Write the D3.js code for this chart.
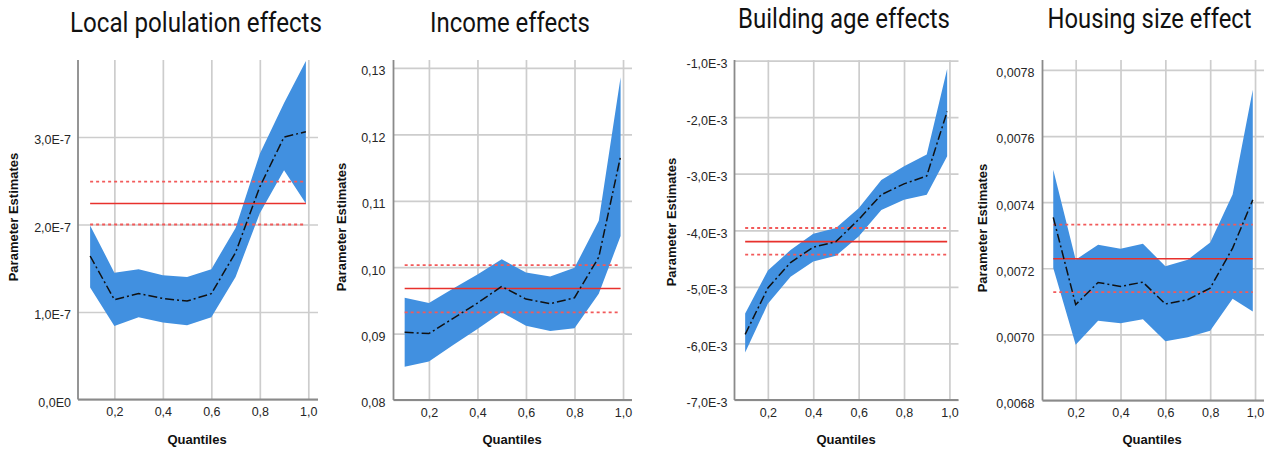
<!DOCTYPE html>
<html>
<head>
<meta charset="utf-8">
<script src="https://cdn.jsdelivr.net/npm/d3@7"></script>
<style>
  html, body { margin: 0; padding: 0; background: #fff; }
  svg { display: block; }
</style>
</head>
<body>
<svg id="chart" width="1266" height="449"></svg>
<script>
// Quantile regression coefficients with confidence bands, plus OLS estimate and its interval.
const quantiles = [0.1, 0.2, 0.3, 0.4, 0.5, 0.6, 0.7, 0.8, 0.9, 0.99];
const xTickValues = [0.2, 0.4, 0.6, 0.8, 1.0];
const xTickLabels = ["0,2", "0,4", "0,6", "0,8", "1,0"];

// Local population
const popEstimate = [1.64e-7, 1.14e-7, 1.21e-7, 1.155e-7, 1.125e-7, 1.21e-7, 1.68e-7, 2.43e-7, 3.00e-7, 3.06e-7];
const popUpper    = [1.99e-7, 1.45e-7, 1.49e-7, 1.42e-7, 1.40e-7, 1.49e-7, 1.96e-7, 2.81e-7, 3.39e-7, 3.87e-7];
const popLower    = [1.28e-7, 0.84e-7, 0.94e-7, 0.88e-7, 0.85e-7, 0.94e-7, 1.40e-7, 2.13e-7, 2.62e-7, 2.24e-7];
const popOls      = [2.24e-7, 2.00e-7, 2.49e-7];   // estimate, lower, upper
const popYTicks   = [0, 1e-7, 2e-7, 3e-7];
const popYLabels  = ["0,0E0", "1,0E-7", "2,0E-7", "3,0E-7"];

// Income
const incEstimate = [0.0902, 0.0900, 0.0923, 0.0946, 0.0971, 0.0952, 0.0945, 0.0954, 0.1015, 0.1167];
const incUpper    = [0.0954, 0.0946, 0.0968, 0.0989, 0.1012, 0.0992, 0.0986, 0.0999, 0.1070, 0.1286];
const incLower    = [0.0850, 0.0858, 0.0883, 0.0907, 0.0932, 0.0912, 0.0904, 0.0908, 0.0960, 0.1047];
const incOls      = [0.0968, 0.0932, 0.1003];
const incYTicks   = [0.08, 0.09, 0.10, 0.11, 0.12, 0.13];
const incYLabels  = ["0,08", "0,09", "0,10", "0,11", "0,12", "0,13"];

// Building age
const ageEstimate = [-5.84e-3, -5.02e-3, -4.57e-3, -4.30e-3, -4.20e-3, -3.81e-3, -3.37e-3, -3.18e-3, -3.04e-3, -1.90e-3];
const ageUpper    = [-5.47e-3, -4.71e-3, -4.35e-3, -4.06e-3, -3.96e-3, -3.61e-3, -3.11e-3, -2.87e-3, -2.66e-3, -1.15e-3];
const ageLower    = [-6.16e-3, -5.30e-3, -4.82e-3, -4.55e-3, -4.45e-3, -4.11e-3, -3.64e-3, -3.46e-3, -3.37e-3, -2.69e-3];
const ageOls      = [-4.20e-3, -4.43e-3, -3.96e-3];
const ageYTicks   = [-7e-3, -6e-3, -5e-3, -4e-3, -3e-3, -2e-3, -1e-3];
const ageYLabels  = ["-7,0E-3", "-6,0E-3", "-5,0E-3", "-4,0E-3", "-3,0E-3", "-2,0E-3", "-1,0E-3"];

// Housing size
const sizeEstimate = [0.007354, 0.007090, 0.007157, 0.007145, 0.007158, 0.007092, 0.007105, 0.007140, 0.007261, 0.007407];
const sizeUpper    = [0.007498, 0.007226, 0.007271, 0.007259, 0.007274, 0.007206, 0.007226, 0.007278, 0.007423, 0.007740];
const sizeLower    = [0.007201, 0.006969, 0.007041, 0.007034, 0.007046, 0.006979, 0.006991, 0.007011, 0.007108, 0.007069];
const sizeOls      = [0.007229, 0.007128, 0.007332];
const sizeYTicks   = [0.0068, 0.0070, 0.0072, 0.0074, 0.0076, 0.0078];
const sizeYLabels  = ["0,0068", "0,0070", "0,0072", "0,0074", "0,0076", "0,0078"];

const titles = ["Local polulation effects", "Income effects", "Building age effects", "Housing size effect"];

// Panel geometry and styling
const panels = [
  { title: titles[0], est: popEstimate, lo: popLower, hi: popUpper, ols: popOls,
    yTicks: popYTicks, yLabels: popYLabels, yDomain: [0, 3.88e-7], xDomain: [0.05, 1.04],
    left: 78, right: 318, top: 60, bottom: 399.5,
    titleX: 196, titleY: 32, titleW: 252, yLabX: 13, yLabY: 217, qX: 197, pad: 7 },
  { title: titles[1], est: incEstimate, lo: incLower, hi: incUpper, ols: incOls,
    yTicks: incYTicks, yLabels: incYLabels, yDomain: [0.08, 0.1312], xDomain: [0.054, 1.037],
    left: 393.5, right: 632, top: 60, bottom: 400,
    titleX: 510, titleY: 32, titleW: 160, yLabX: 341, yLabY: 227, qX: 512, pad: 8 },
  { title: titles[2], est: ageEstimate, lo: ageLower, hi: ageUpper, ols: ageOls,
    yTicks: ageYTicks, yLabels: ageYLabels, yDomain: [-7e-3, -0.99e-3], xDomain: [0.053, 1.04],
    left: 734.5, right: 958.5, top: 60, bottom: 400,
    titleX: 844, titleY: 28, titleW: 212, yLabX: 671, yLabY: 222, qX: 846, pad: 7 },
  { title: titles[3], est: sizeEstimate, lo: sizeLower, hi: sizeUpper, ols: sizeOls,
    yTicks: sizeYTicks, yLabels: sizeYLabels, yDomain: [0.0068, 0.00783], xDomain: [0.052, 1.04],
    left: 1042.5, right: 1264, top: 60, bottom: 400.5,
    titleX: 1149.5, titleY: 28, titleW: 204, yLabX: 982, yLabY: 228, qX: 1152, pad: 8 }
];

const svg = d3.select("#chart");
svg.append("rect").attr("width", 1266).attr("height", 449).attr("fill", "#fff");

const gridColor = "#cdcdcd";
const axisColor = "#8a8a8a";
const bandColor = "#4190e0";

panels.forEach(p => {
  const g = svg.append("g");
  const x = d3.scaleLinear().domain(p.xDomain).range([p.left, p.right]);
  const y = d3.scaleLinear().domain(p.yDomain).range([p.bottom, p.top]);

  // Horizontal grid + y tick labels
  const yAxis = g.append("g")
    .attr("transform", `translate(${p.left},0)`)
    .call(d3.axisLeft(y).tickValues(p.yTicks)
      .tickFormat((d, i) => p.yLabels[i])
      .tickSize(-(p.right - p.left)).tickPadding(p.pad));
  yAxis.select(".domain").remove();
  yAxis.selectAll(".tick line").attr("stroke", gridColor).attr("stroke-width", 1.7);
  yAxis.selectAll(".tick text")
    .attr("dy", "0.55em")
    .attr("fill", "#262626")
    .style("font-family", "'Liberation Sans', Arial, sans-serif")
    .style("font-size", "12.5px");

  // Vertical grid + x tick labels
  const xAxis = g.append("g")
    .attr("transform", `translate(0,${p.bottom})`)
    .call(d3.axisBottom(x).tickValues(xTickValues)
      .tickFormat((d, i) => xTickLabels[i])
      .tickSize(-(p.bottom - p.top)).tickPadding(8));
  xAxis.select(".domain").remove();
  xAxis.selectAll(".tick line").attr("stroke", gridColor).attr("stroke-width", 1.7);
  xAxis.selectAll(".tick text")
    .attr("fill", "#262626")
    .style("font-family", "'Liberation Sans', Arial, sans-serif")
    .style("font-size", "12.5px");

  // Confidence band
  const rows = quantiles.map((q, i) => ({ q, est: p.est[i], lo: p.lo[i], hi: p.hi[i] }));
  g.append("path")
    .datum(rows)
    .attr("fill", bandColor)
    .attr("d", d3.area().x(d => x(d.q)).y0(d => y(d.lo)).y1(d => y(d.hi)));

  // OLS estimate and interval
  const qMin = quantiles[0], qMax = quantiles[quantiles.length - 1];
  g.append("line")
    .attr("x1", x(qMin)).attr("x2", x(qMax))
    .attr("y1", y(p.ols[0])).attr("y2", y(p.ols[0]))
    .attr("stroke", "#e8312c").attr("stroke-width", 1.6);
  [p.ols[1], p.ols[2]].forEach(v => {
    g.append("line")
      .attr("x1", x(qMin)).attr("x2", x(qMax))
      .attr("y1", y(v)).attr("y2", y(v))
      .attr("stroke", "#f25a5a").attr("stroke-width", 1.8)
      .attr("stroke-dasharray", "3,3");
  });

  // Quantile estimate line
  g.append("path")
    .datum(rows)
    .attr("fill", "none")
    .attr("stroke", "#111")
    .attr("stroke-width", 1.5)
    .attr("stroke-dasharray", "9,3,2,3")
    .attr("d", d3.line().x(d => x(d.q)).y(d => y(d.est)));

  // Axis lines
  g.append("line")
    .attr("x1", p.left).attr("x2", p.left).attr("y1", p.top).attr("y2", p.bottom)
    .attr("stroke", axisColor).attr("stroke-width", 1.8);
  g.append("line")
    .attr("x1", p.left).attr("x2", p.right).attr("y1", p.bottom).attr("y2", p.bottom)
    .attr("stroke", axisColor).attr("stroke-width", 1.8);

  // Title in a narrow face: squeeze horizontally to the intended width
  const title = g.append("text")
    .attr("text-anchor", "middle")
    .style("font-family", "Roboto, sans-serif")
    .style("font-size", "27px")
    .attr("fill", "#111")
    .text(p.title);
  const natural = title.node().getComputedTextLength();
  const sx = natural > 0 ? p.titleW / natural : 1;
  title.attr("transform", `translate(${p.titleX},${p.titleY}) scale(${sx},1)`);

  g.append("text")
    .attr("transform", `translate(${p.yLabX},${p.yLabY}) rotate(-90)`)
    .attr("text-anchor", "middle")
    .attr("dy", "0.35em")
    .style("font-family", "'Liberation Sans', Arial, sans-serif")
    .style("font-size", "13px")
    .style("font-weight", "bold")
    .attr("fill", "#111")
    .text("Parameter Estimates");

  g.append("text")
    .attr("x", p.qX).attr("y", 444)
    .attr("text-anchor", "middle")
    .style("font-family", "'Liberation Sans', Arial, sans-serif")
    .style("font-size", "13px")
    .style("font-weight", "bold")
    .attr("fill", "#111")
    .text("Quantiles");
});
</script>
</body>
</html>
